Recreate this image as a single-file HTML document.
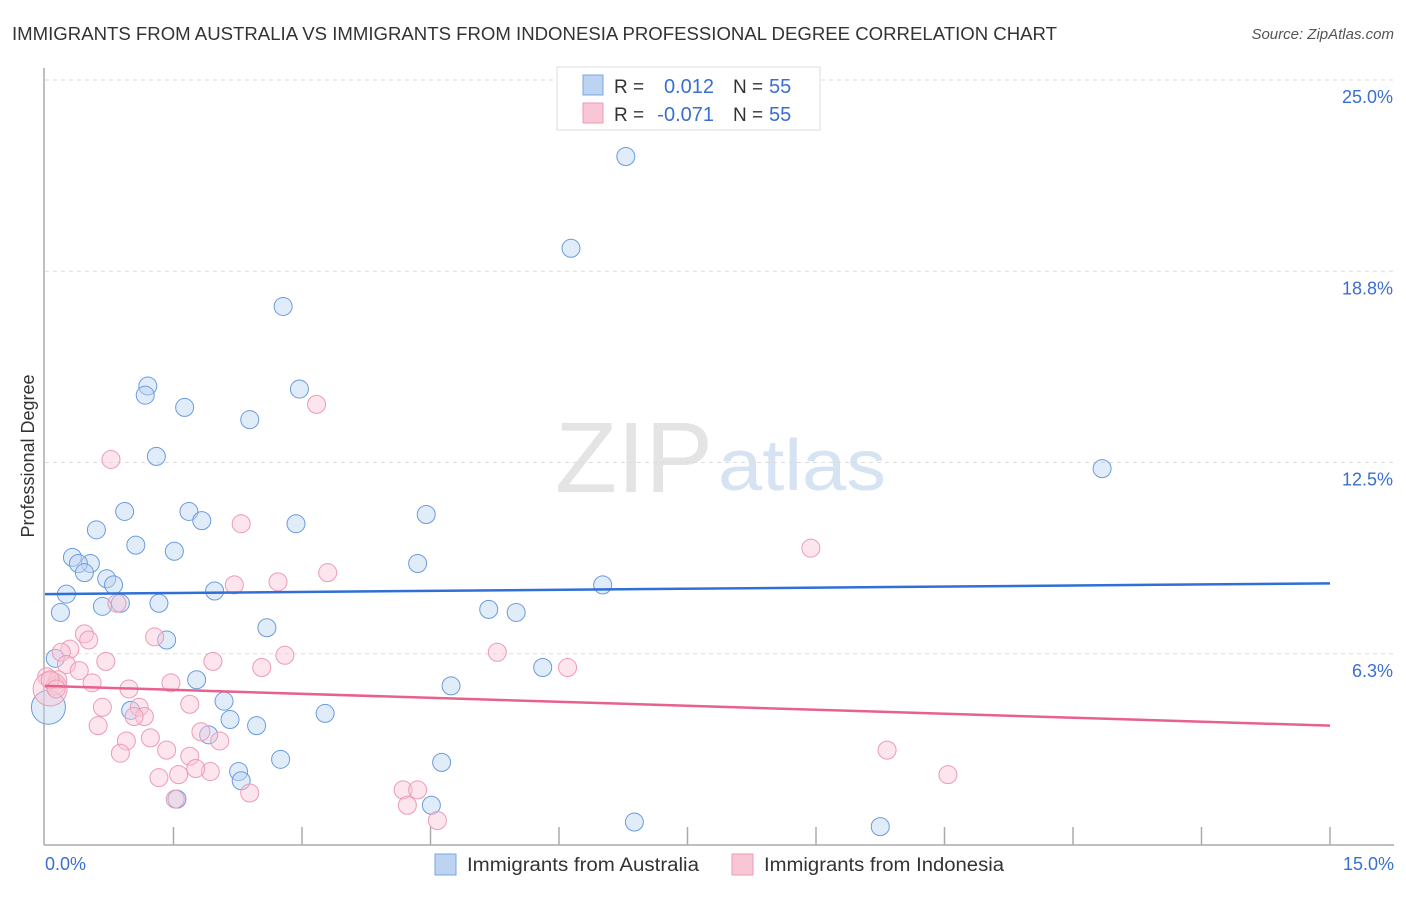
<!DOCTYPE html>
<html><head><meta charset="utf-8"><style>
body{margin:0;background:#fff;font-family:"Liberation Sans",sans-serif}
svg text{font-family:"Liberation Sans",sans-serif}
</style></head><body>
<svg id="chart" width="1406" height="892" xmlns="http://www.w3.org/2000/svg">
<text x="12" y="40" font-size="18" fill="#333" textLength="1045" lengthAdjust="spacingAndGlyphs">IMMIGRANTS FROM AUSTRALIA VS IMMIGRANTS FROM INDONESIA PROFESSIONAL DEGREE CORRELATION CHART</text>
<text x="1394" y="39" font-size="15" fill="#555" font-style="italic" text-anchor="end">Source: ZipAtlas.com</text>
<text x="555" y="492" font-size="100" fill="#e4e4e4" font-family="Liberation Serif" textLength="158" lengthAdjust="spacingAndGlyphs">ZIP</text>
<text x="718" y="490" font-size="72" fill="#d6e3f3" textLength="168" lengthAdjust="spacingAndGlyphs">atlas</text>
<g id="grid"></g><g id="axes"></g><g id="pts"></g><g id="trends"></g>
<text transform="translate(34,456) rotate(-90)" font-size="18" fill="#333" text-anchor="middle">Professional Degree</text>
<text x="45" y="870" font-size="18" fill="#3a6fd0">0.0%</text>
<text x="1394" y="870" font-size="18" fill="#3a6fd0" text-anchor="end">15.0%</text>
<g>
<rect x="557" y="67" width="263" height="63" fill="#fff" stroke="#ddd"/>
<rect x="583" y="75" width="20" height="20" fill="#bcd4f2" stroke="#7aa6e0"/>
<rect x="583" y="103" width="20" height="20" fill="#f9c6d5" stroke="#ee99b3"/>
<text x="614" y="93" font-size="19" fill="#333">R =</text>
<text x="714" y="93" font-size="20" fill="#3a6fd0" text-anchor="end">0.012</text>
<text x="733" y="93" font-size="19" fill="#333">N =</text>
<text x="769" y="93" font-size="20" fill="#3a6fd0">55</text>
<text x="614" y="121" font-size="19" fill="#333">R =</text>
<text x="714" y="121" font-size="20" fill="#3a6fd0" text-anchor="end">-0.071</text>
<text x="733" y="121" font-size="19" fill="#333">N =</text>
<text x="769" y="121" font-size="20" fill="#3a6fd0">55</text>
</g>
<g>
<rect x="435" y="854" width="21" height="21" fill="#bcd4f2" stroke="#7aa6e0"/>
<text x="467" y="871" font-size="19" fill="#333" textLength="232" lengthAdjust="spacingAndGlyphs">Immigrants from Australia</text>
<rect x="732" y="854" width="21" height="21" fill="#f9c6d5" stroke="#ee99b3"/>
<text x="764" y="871" font-size="19" fill="#333" textLength="240" lengthAdjust="spacingAndGlyphs">Immigrants from Indonesia</text>
</g>
</svg>
<script>
const yTicks=[6.25,12.5,18.75,25];
const yTickLabels=["6.3%","12.5%","18.8%","25.0%"];
const blueX=[6.78,6.14,2.78,1.20,1.17,2.97,1.63,2.39,1.30,12.34,0.93,1.68,1.83,2.93,4.45,0.60,1.06,1.51,0.32,0.53,0.39,0.46,4.35,0.72,0.80,6.51,1.98,0.25,0.88,1.33,0.67,0.18,5.18,5.50,1.42,2.59,0.12,5.81,1.77,4.74,2.09,1.00,3.27,2.16,2.47,1.91,2.75,4.63,2.26,2.29,1.54,4.51,6.88,9.75,0.04];
const blueY=[22.5,19.5,17.6,15.0,14.7,14.9,14.3,13.9,12.7,12.3,10.9,10.9,10.6,10.5,10.8,10.3,9.8,9.6,9.4,9.2,9.2,8.9,9.2,8.7,8.5,8.5,8.3,8.2,7.9,7.9,7.8,7.6,7.7,7.6,6.7,7.1,6.1,5.8,5.4,5.2,4.7,4.4,4.3,4.1,3.9,3.6,2.8,2.7,2.4,2.1,1.5,1.3,0.75,0.6,4.5];
const pinkX=[0.77,3.17,2.29,8.94,3.30,2.72,2.21,0.84,0.46,0.51,1.28,0.29,0.19,2.80,5.28,1.96,0.71,2.53,6.10,0.25,0.40,0.02,0.15,0.55,1.47,0.12,0.98,1.69,1.10,0.67,1.16,1.04,0.62,1.82,0.95,1.23,2.04,1.42,0.88,1.69,9.83,1.93,1.56,1.76,1.33,10.54,2.39,1.52,4.18,4.35,4.23,4.58,0.06,0.06,0.13];
const pinkY=[12.6,14.4,10.5,9.7,8.9,8.6,8.5,7.9,6.9,6.7,6.8,6.4,6.3,6.2,6.3,6.0,6.0,5.8,5.8,5.9,5.7,5.5,5.4,5.3,5.3,5.2,5.1,4.6,4.5,4.5,4.2,4.2,3.9,3.7,3.4,3.5,3.4,3.1,3.0,2.9,3.1,2.4,2.3,2.5,2.2,2.3,1.7,1.5,1.8,1.8,1.3,0.8,5.1,5.4,5.1];
const blueTrend=[8.2,8.55];
const pinkTrend=[5.2,3.9];
const NS="http://www.w3.org/2000/svg";
const X0=45,X1=1330,Y0=845,Y25=80;
const sx=v=>X0+(v/15)*(X1-X0);
const sy=v=>Y0-(v/25)*(Y0-Y25);
function mk(tag,attrs,parent){const e=document.createElementNS(NS,tag);for(const k in attrs)e.setAttribute(k,attrs[k]);parent.appendChild(e);return e;}
const grid=document.getElementById('grid'),axes=document.getElementById('axes'),pts=document.getElementById('pts'),tr=document.getElementById('trends');
yTicks.forEach((t,i)=>{
 const l=mk('line',{x1:X0,x2:1394,y1:sy(t),y2:sy(t),stroke:'#ddd','stroke-dasharray':'4,4'},grid);
 
 
 const tx=mk('text',{x:1393,y:sy(t)+23,'font-size':18,fill:'#3a6fd0','text-anchor':'end'},grid);
 tx.textContent=yTickLabels[i];
 
 
});
const ya=mk('line',{x1:X0-1,x2:X0-1,y1:68,y2:Y0,stroke:'#aaa','stroke-width':1.5},axes);


const xa=mk('line',{x1:X0-1,x2:1394,y1:Y0,y2:Y0,stroke:'#aaa','stroke-width':1.5},axes);


for(let i=1;i<=10;i++){const t=mk('line',{x1:sx(i*1.5),x2:sx(i*1.5),y1:Y0-18,y2:Y0,stroke:'#aaa','stroke-width':1.5},axes);
 
 }
function dots(xs,ys,fill,stroke,name){xs.forEach((x,i)=>{
 const big=(i===xs.length-1&&name==='australia-point')||(name==='indonesia-point'&&i===xs.length-3);
 const c=mk('circle',{cx:sx(x),cy:sy(ys[i]),r:big?17:9,fill:fill,'fill-opacity':0.45,stroke:stroke,'stroke-width':1},pts);
 
 
});}
dots(blueX,blueY,'#bcd4f2','#6a9be0','australia-point');
dots(pinkX,pinkY,'#f9c6d5','#ee9ab5','indonesia-point');
const bl=mk('line',{x1:sx(0),x2:sx(15),y1:sy(blueTrend[0]),y2:sy(blueTrend[1]),stroke:'#2f6fd6','stroke-width':2.5},tr);


const pl=mk('line',{x1:sx(0),x2:sx(15),y1:sy(pinkTrend[0]),y2:sy(pinkTrend[1]),stroke:'#e8608c','stroke-width':2.5},tr);


</script>
</body></html>
